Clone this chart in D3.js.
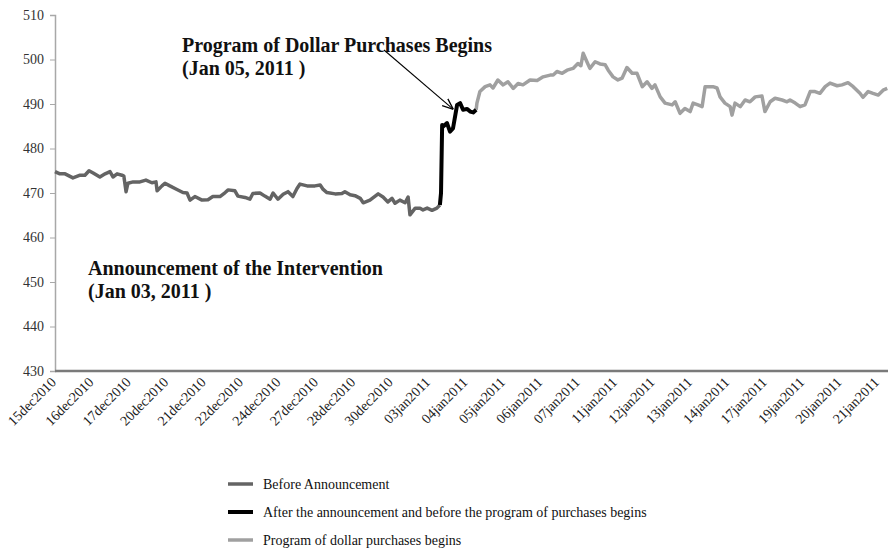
<!DOCTYPE html>
<html>
<head>
<meta charset="utf-8">
<script src="https://cdn.jsdelivr.net/npm/d3@7"></script>
<style>
  body { margin: 0; background: #fff; }
  svg { display: block; font-family: "Liberation Serif", "Times New Roman", serif; }
</style>
</head>
<body>
<div id="chart"></div>
<script>
// trading days on the x axis (one label per day)
var days = ["15dec2010", "16dec2010", "17dec2010", "20dec2010", "21dec2010", "22dec2010",
  "24dec2010", "27dec2010", "28dec2010", "30dec2010", "03jan2011", "04jan2011",
  "05jan2011", "06jan2011", "07jan2011", "11jan2011", "12jan2011", "13jan2011",
  "14jan2011", "17jan2011", "19jan2011", "20jan2011", "21jan2011"];

var yTicks = [430, 440, 450, 460, 470, 480, 490, 500, 510];

// position in trading days (fractional = intraday), exchange rate value
var beforeT = [0.00, 0.13, 0.27, 0.48, 0.67, 0.80, 0.91, 1.02, 1.20, 1.34, 1.47, 1.55, 1.66, 1.79, 1.84, 1.90, 1.95,
  2.09, 2.27, 2.43, 2.59, 2.70, 2.73, 2.86, 2.94, 3.07, 3.26, 3.42, 3.53, 3.61, 3.74, 3.93, 4.09, 4.22, 4.41,
  4.55, 4.63, 4.81, 4.89, 5.08, 5.21, 5.29, 5.48, 5.61, 5.75, 5.83, 5.96, 6.10, 6.23, 6.36, 6.47, 6.55, 6.74,
  6.95, 7.09, 7.17, 7.27, 7.49, 7.67, 7.75, 7.89, 8.02, 8.16, 8.24, 8.42, 8.64, 8.77, 8.90, 9.01, 9.09, 9.22,
  9.36, 9.44, 9.49, 9.63, 9.76, 9.84, 9.95, 10.08, 10.21, 10.29];
var beforeV = [474.8, 474.3, 474.3, 473.4, 474.0, 474.0, 475.0, 474.5, 473.6, 474.3, 474.8, 473.6, 474.3, 474.0, 473.8, 470.3, 472.2,
  472.5, 472.5, 472.9, 472.3, 472.5, 470.5, 471.6, 472.2, 471.6, 470.8, 470.1, 470.0, 468.4, 469.2, 468.4, 468.5, 469.2, 469.2,
  470.1, 470.7, 470.5, 469.3, 469.0, 468.6, 469.9, 470.0, 469.3, 468.6, 470.0, 468.6, 469.7, 470.3, 469.2, 471.0, 472.0, 471.6,
  471.6, 471.8, 470.8, 470.1, 469.8, 469.9, 470.3, 469.6, 469.4, 468.8, 467.8, 468.4, 469.8, 469.1, 468.0, 468.8, 467.7, 468.4,
  467.8, 469.1, 465.1, 466.6, 466.6, 466.2, 466.6, 466.1, 466.6, 467.3];

var afterT = [10.29, 10.32, 10.35, 10.37, 10.48, 10.56, 10.64, 10.75, 10.83, 10.91, 11.02, 11.10, 11.18, 11.26];
var afterV = [467.3, 470.0, 485.3, 484.9, 485.7, 483.8, 484.5, 489.8, 490.2, 488.7, 488.9, 488.3, 488.1, 488.7];

var programT = [11.26, 11.28, 11.36, 11.50, 11.63, 11.71, 11.84, 11.98, 12.11, 12.25, 12.38, 12.51, 12.70, 12.89, 13.05,
  13.24, 13.32, 13.42, 13.56, 13.69, 13.85, 13.98, 14.06, 14.12, 14.22, 14.30, 14.44, 14.57, 14.71, 14.79, 14.92,
  15.05, 15.16, 15.29, 15.43, 15.56, 15.70, 15.83, 15.96, 16.04, 16.18, 16.31, 16.50, 16.58, 16.71, 16.84, 16.98,
  17.06, 17.19, 17.30, 17.38, 17.59, 17.70, 17.78, 17.91, 18.05, 18.10, 18.18, 18.32, 18.45, 18.58, 18.72, 18.90,
  18.98, 19.12, 19.25, 19.44, 19.57, 19.65, 19.79, 19.92, 20.05, 20.19, 20.32, 20.45, 20.59, 20.72, 20.91, 21.04,
  21.20, 21.34, 21.52, 21.60, 21.74, 21.87, 22.01, 22.14, 22.25];
var programV = [488.7, 490.2, 492.8, 493.9, 494.3, 493.6, 495.4, 494.3, 495.0, 493.5, 494.6, 494.3, 495.4, 495.3, 496.1,
  496.5, 496.5, 497.3, 496.9, 497.6, 498.0, 499.1, 498.6, 501.4, 499.5, 498.0, 499.5, 499.0, 498.8, 497.6, 496.1,
  495.4, 495.8, 498.2, 496.9, 496.9, 493.9, 495.0, 493.5, 494.3, 491.6, 490.2, 489.8, 490.5, 487.9, 489.0, 488.3,
  490.2, 489.8, 489.4, 493.9, 493.9, 493.6, 491.6, 490.2, 489.4, 487.5, 490.2, 489.4, 490.9, 490.5, 491.6, 491.8,
  488.3, 490.5, 491.3, 490.9, 490.5, 490.9, 490.2, 489.4, 489.8, 492.8, 492.8, 492.4, 493.9, 494.7, 494.1, 494.3,
  494.8, 493.9, 492.4, 491.5, 492.8, 492.4, 492.0, 493.1, 493.5];

var seriesNames = ["Before Announcement",
  "After the announcement and before the program of purchases begins",
  "Program of dollar purchases begins"];
var seriesColors = ["#646464", "#000000", "#a0a0a0"];
var seriesWidths = [3.5, 4, 3.5];

var w = 888, h = 549;
var margin = {left: 55, top: 15, bottom: 178};

var svg = d3.select("#chart").append("svg")
  .attr("width", w)
  .attr("height", h);

var x = d3.scaleLinear().domain([0, 22.27]).range([margin.left, w]);
var y = d3.scaleLinear().domain([430, 510]).range([h - margin.bottom, margin.top]);

// y axis
var yAxis = svg.append("g")
  .attr("transform", "translate(" + margin.left + ",0)")
  .call(d3.axisLeft(y).tickValues(yTicks).tickSize(5).tickPadding(6).tickFormat(d3.format("d")));
yAxis.select(".domain").attr("stroke", "#a8a8a8").attr("stroke-width", 1.5);
yAxis.selectAll(".tick line").attr("stroke", "#a8a8a8");
yAxis.selectAll("text").attr("font-size", 14).attr("fill", "#333").style("font-family", "Liberation Serif");

// x axis line + rotated day labels
svg.append("line")
  .attr("x1", margin.left).attr("x2", w)
  .attr("y1", y(430)).attr("y2", y(430))
  .attr("stroke", "#7a7a7a").attr("stroke-width", 2.5);

svg.append("g").selectAll("text")
  .data(days)
  .enter().append("text")
  .attr("transform", function (d, i) { return "translate(" + (x(i) + 2) + "," + (y(430) + 12) + ") rotate(-45)"; })
  .attr("text-anchor", "end")
  .attr("font-size", 14)
  .attr("fill", "#222")
  .text(function (d) { return d; });

// lines
var line = d3.line()
  .x(function (d) { return x(d[0]); })
  .y(function (d) { return y(d[1]); });

var series = [d3.zip(beforeT, beforeV), d3.zip(afterT, afterV), d3.zip(programT, programV)];
var drawOrder = [0, 2, 1];
drawOrder.forEach(function (k) {
  svg.append("path")
    .datum(series[k])
    .attr("fill", "none")
    .attr("stroke", seriesColors[k])
    .attr("stroke-width", seriesWidths[k])
    .attr("stroke-linejoin", "round")
    .attr("d", line);
});

// annotations
svg.append("defs").append("marker")
  .attr("id", "arrow")
  .attr("viewBox", "0 0 10 10")
  .attr("refX", 10).attr("refY", 5)
  .attr("markerWidth", 10).attr("markerHeight", 10)
  .attr("orient", "auto")
  .append("path")
  .attr("d", "M0,1 L10,5 L0,9")
  .attr("fill", "none")
  .attr("stroke", "#000")
  .attr("stroke-width", 1.2);

svg.append("line")
  .attr("x1", 384).attr("y1", 50)
  .attr("x2", x(10.65)).attr("y2", y(488.8))
  .attr("stroke", "#000").attr("stroke-width", 1.1)
  .attr("marker-end", "url(#arrow)");

var notes = [
  {t: "Program of Dollar Purchases Begins", x: 182, y: 52},
  {t: "(Jan 05, 2011 )", x: 182, y: 75},
  {t: "Announcement of the Intervention", x: 88, y: 275},
  {t: "(Jan 03, 2011 )", x: 88, y: 298}
];
svg.append("g").selectAll("text")
  .data(notes)
  .enter().append("text")
  .attr("x", function (d) { return d.x; })
  .attr("y", function (d) { return d.y; })
  .attr("font-size", 20)
  .attr("font-weight", "bold")
  .attr("fill", "#111")
  .text(function (d) { return d.t; });

// legend
var legend = svg.append("g").attr("transform", "translate(228,484)");
seriesNames.forEach(function (name, i) {
  var g = legend.append("g").attr("transform", "translate(0," + (i * 28) + ")");
  g.append("line")
    .attr("x1", 0).attr("x2", 25)
    .attr("stroke", seriesColors[i])
    .attr("stroke-width", seriesWidths[i]);
  g.append("text")
    .attr("x", 35).attr("y", 4.5)
    .attr("font-size", 14)
    .attr("fill", "#111")
    .text(name);
});
</script>
</body>
</html>
